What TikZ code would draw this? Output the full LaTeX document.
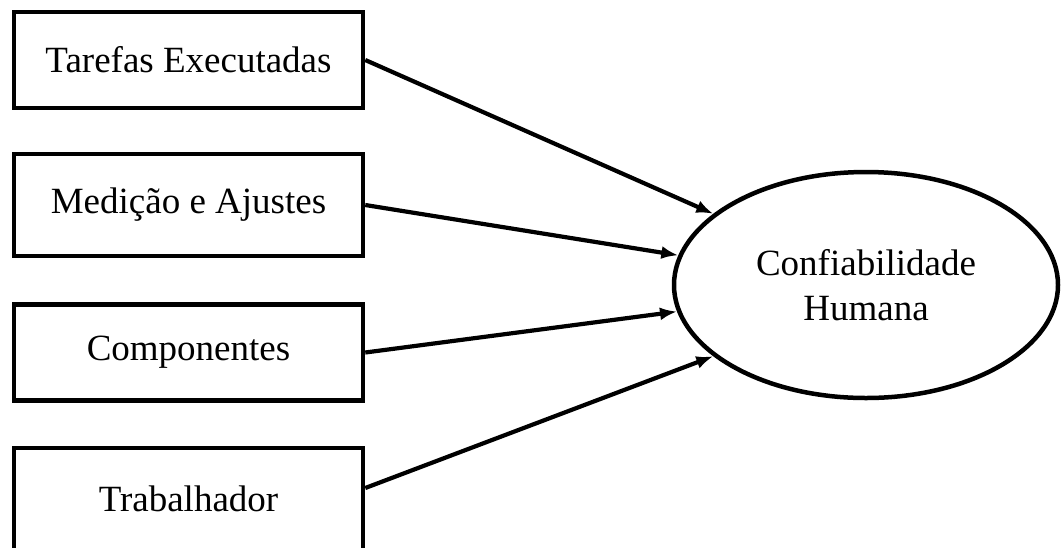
\documentclass[tikz,border=0pt]{standalone}
\usepackage{fontspec}
\setmainfont{Liberation Serif}
\usetikzlibrary{shapes.geometric,arrows.meta}
\begin{document}
\begin{tikzpicture}[x=1pt,y=-1pt,
  every node/.style={font=\fontsize{37}{45}\selectfont},
  factor/.style={draw, line width=4.5pt, minimum width=349pt, minimum height=96pt, inner sep=0pt},
  target/.style={draw, ellipse, line width=4.5pt, minimum width=384pt, minimum height=226pt, inner sep=0pt, align=center},
  link/.style={line width=4.2pt, -{Latex[length=17pt,width=13pt]}}]
\useasboundingbox (0,0) rectangle (1062,547);
\fill[white] (0,0) rectangle (1062,547);
\node[factor] (b1) at (188.5,60) {Tarefas Executadas};
\node[factor, minimum height=102pt] (b2) at (188.5,205) {Medição e Ajustes};
\node[factor] (b3) at (188.5,352.5) {Componentes};
\node[factor, minimum height=108pt] (b4) at (188.5,502) {\raisebox{6pt}{Trabalhador}};
\node[target] (ell) at (866,285) {Confiabilidade\\Humana};
\draw[link] (b1.east) -- (ell.155);
\draw[link] (b2.east) -- (ell.171);
\draw[link] (b3.east) -- (ell.188);
\draw[link] ([yshift=14pt]b4.east) -- (ell.205);
\end{tikzpicture}
\end{document}
